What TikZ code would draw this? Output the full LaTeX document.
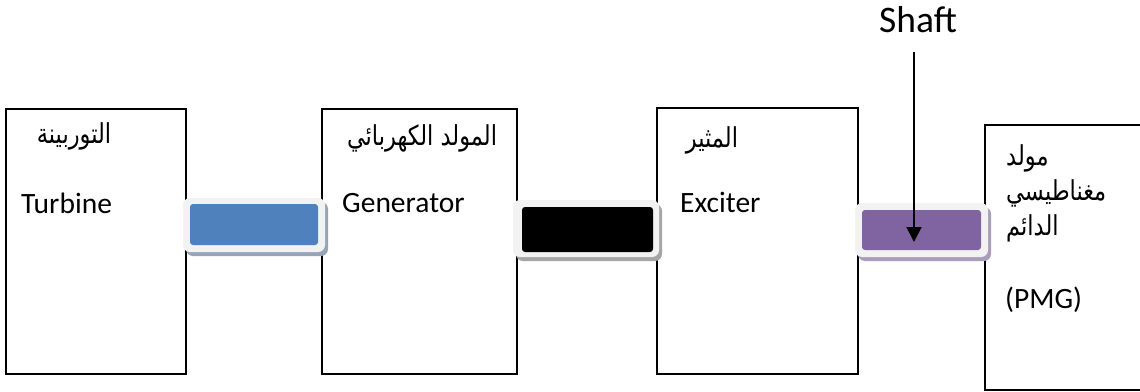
\documentclass[tikz,border=0pt]{standalone}
\usepackage{fontspec}
\usepackage{graphicx}
\setmainfont{Carlito}
\newfontfamily\arabicfont[Script=Arabic]{DejaVu Sans}
\TeXXeTstate=1
\usetikzlibrary{arrows.meta}
\definecolor{cblue}{HTML}{4F81BD}
\definecolor{cpurple}{HTML}{8064A2}
\definecolor{cframe}{HTML}{F2F2F2}
\definecolor{sblue}{HTML}{97A4B8}
\definecolor{sblack}{HTML}{A6A6A6}
\definecolor{spurple}{HTML}{A99DB9}
\newcommand{\artx}[1]{\scalebox{1}[1.22]{\beginR #1\endR}}
\tikzset{
  unitbox/.style={draw=black, line width=1.3pt, fill=white, inner sep=0pt, outer sep=0pt},
  couplerframe/.style={fill=cframe, rounded corners=7pt, inner sep=0pt, outer sep=0pt,
     preaction={fill=#1, transform canvas={xshift=3pt,yshift=-4pt}}},
  couplercore/.style={fill=#1, rounded corners=3pt, inner sep=0pt, outer sep=0pt},
  entext/.style={font=\fontsize{29.5}{34}\selectfont, inner sep=0pt, anchor=base west},
  artext/.style={font=\fontsize{22.5}{26}\arabicfont, inner sep=0pt},
  shaftarrow/.style={line width=2pt, -{Triangle[width=15pt,length=15pt]}}
}
\begin{document}
\begin{tikzpicture}[x=1pt,y=-1pt]
\clip (0,0) rectangle (1140,391);
\fill[white] (0,0) rectangle (1140,391);
% units
\node[unitbox, minimum width=180pt, minimum height=265pt] (turbine) at (96,241.5) {};
\node[unitbox, minimum width=195pt, minimum height=265pt] (generator) at (419.5,241.5) {};
\node[unitbox, minimum width=201pt, minimum height=266pt] (exciter) at (757.5,241) {};
\node[unitbox, minimum width=170pt, minimum height=265pt] (pmg) at (1070,257.5) {};
% texts
\node[artext, anchor=base] (tar) at (74,143) {\artx{التوربينة}};
\node[entext] (ten) at (21,213) {Turbine};
\node[artext, anchor=base] (gar) at (422,145) {\artx{المولد الكهربائي}};
\node[entext] (gen) at (342,212) {Generator};
\node[artext, anchor=base] (ear) at (712,147) {\artx{المثير}};
\node[entext] (een) at (680,212) {Exciter};
\node[artext, anchor=base west] (par1) at (1006,165) {\artx{مولد}};
\node[artext, anchor=base west] (par2) at (1006,200) {\artx{مغناطيسي}};
\node[artext, anchor=base west] (par3) at (1006,235) {\artx{الدائم}};
\node[entext] (pen) at (1005,308) {(PMG)};
% couplings
\node[couplerframe=sblue, minimum width=142pt, minimum height=54pt] (c1f) at (254,225) {};
\node[couplercore=cblue, minimum width=128pt, minimum height=41pt] (c1) at (254,224.5) {};
\node[couplerframe=sblack, minimum width=146pt, minimum height=57pt] (c2f) at (586,228.5) {};
\node[couplercore=black, minimum width=131pt, minimum height=45pt] (c2) at (587.5,229.5) {};
\node[couplerframe=spurple, minimum width=133pt, minimum height=54pt] (c3f) at (921.5,230) {};
\node[couplercore=cpurple, minimum width=119pt, minimum height=40pt] (c3) at (921.5,230) {};
% shaft
\node[font=\fontsize{37.5}{42}\selectfont, inner sep=0pt, anchor=base] (shaft) at (918,32) {Shaft};
\coordinate (shafttop) at (914,52);
\coordinate (shafttip) at (914,242);
\draw[shaftarrow] (shafttop) -- (shafttip);
\end{tikzpicture}
\end{document}
